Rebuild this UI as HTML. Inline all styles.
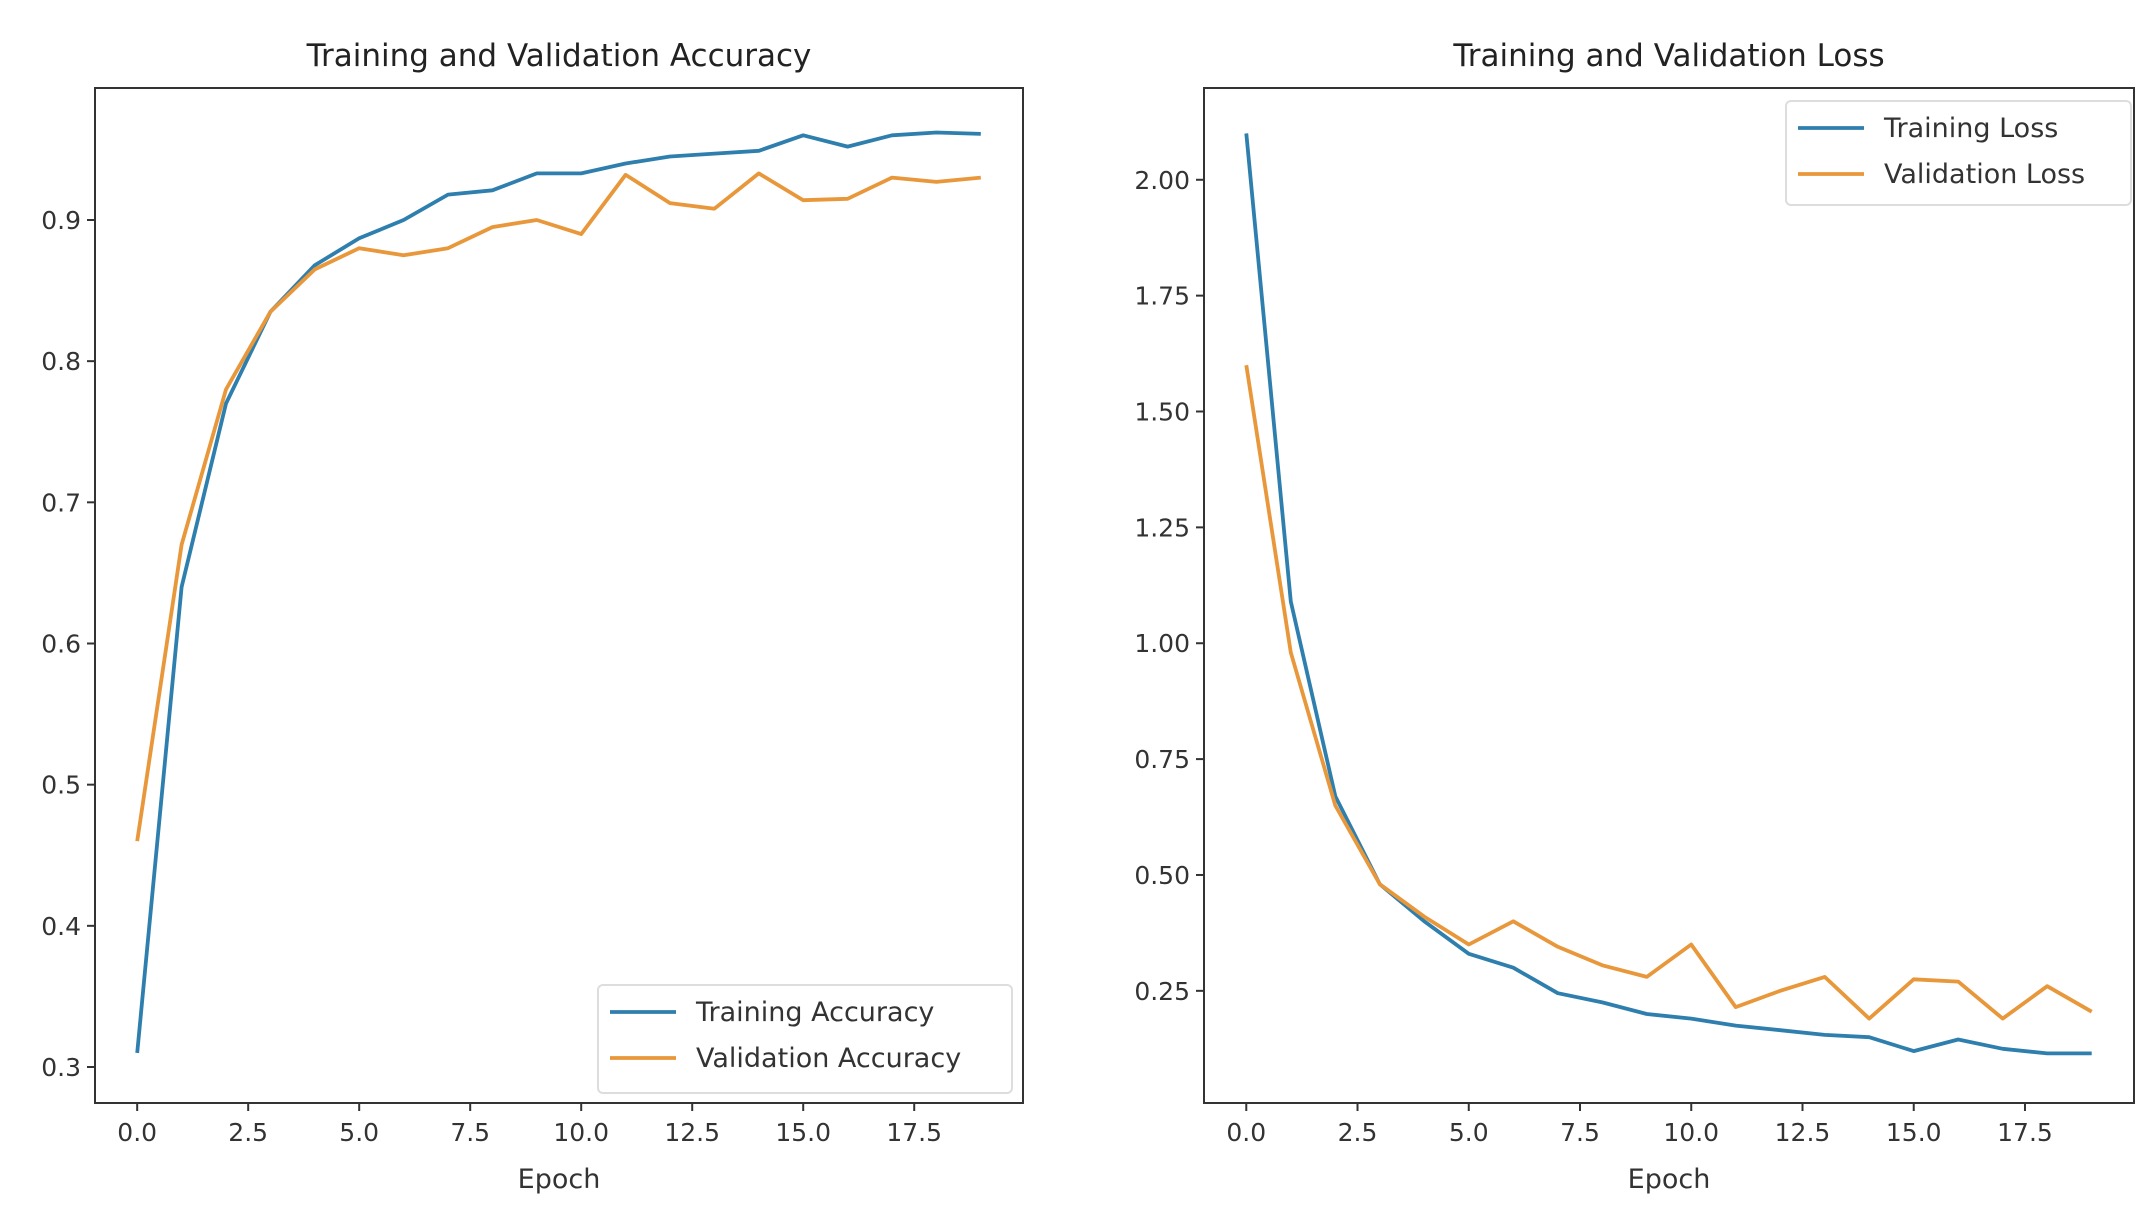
<!DOCTYPE html>
<html><head><meta charset="utf-8"><style>
html,body{margin:0;padding:0;background:#fff;}
svg{display:block;font-family:"DejaVu Sans","Liberation Sans",sans-serif;}
</style></head><body>
<svg id="chart" width="2148" height="1213" viewBox="0 0 2148 1213" xmlns="http://www.w3.org/2000/svg"></svg>
<script>
const epochs = [0,1,2,3,4,5,6,7,8,9,10,11,12,13,14,15,16,17,18,19];
const trainAcc = [0.31,0.64,0.77,0.835,0.868,0.887,0.90,0.918,0.921,0.933,0.933,0.94,0.945,0.947,0.949,0.96,0.952,0.96,0.962,0.961];
const valAcc = [0.46,0.67,0.78,0.835,0.865,0.88,0.875,0.88,0.895,0.90,0.89,0.932,0.912,0.908,0.933,0.914,0.915,0.93,0.927,0.93];
const trainLoss = [2.10,1.09,0.67,0.48,0.40,0.33,0.30,0.245,0.225,0.20,0.19,0.175,0.165,0.155,0.15,0.12,0.145,0.125,0.115,0.115];
const valLoss = [1.60,0.98,0.65,0.48,0.41,0.35,0.40,0.345,0.305,0.28,0.35,0.215,0.25,0.28,0.19,0.275,0.27,0.19,0.26,0.205];
const xTicks = [0,2.5,5,7.5,10,12.5,15,17.5];
const accTicks = [0.3,0.4,0.5,0.6,0.7,0.8,0.9];
const lossTicks = [0.25,0.5,0.75,1.0,1.25,1.5,1.75,2.0];

const NS = "http://www.w3.org/2000/svg";
const svg = document.getElementById('chart');
const BLUE = "#2f7fae", ORANGE = "#e8973a";
function mk(tag, attrs, parent){
  const e = document.createElementNS(NS, tag);
  for (const k in attrs) e.setAttribute(k, attrs[k]);
  (parent||svg).appendChild(e);
  return e;
}
function panel(o){
  const g = mk('g', {});
  
  
  const L=o.left,R=o.right,T=88,B=1103;
  const xs = v => L + (v - (-0.95)) / (19.95 - (-0.95)) * (R - L);
  const ys = v => B - (v - o.ymin) / (o.ymax - o.ymin) * (B - T);
  const frame = mk('rect', {x:L,y:T,width:R-L,height:B-T,fill:'none',stroke:'#333',"stroke-width":2}, g);
  
  
  const title = mk('text', {x:(L+R)/2,y:66,"text-anchor":"middle","font-size":31,fill:"#222"}, g);
  title.textContent = o.title;
  
  
  xTicks.forEach(t=>{
    const x = xs(t);
    mk('line',{x1:x,x2:x,y1:B,y2:B+8,stroke:'#333',"stroke-width":2},g);
    const tx = mk('text',{x:x,y:B+38,"text-anchor":"middle","font-size":25,fill:"#333"},g);
    tx.textContent = t.toFixed(1);
    
    
  });
  o.yt.forEach(t=>{
    const y = ys(t);
    mk('line',{x1:L-8,x2:L,y1:y,y2:y,stroke:'#333',"stroke-width":2},g);
    const ty = mk('text',{x:L-14,y:y+9,"text-anchor":"end","font-size":25,fill:"#333"},g);
    ty.textContent = t.toFixed(o.dec);
    
    
  });
  const xl = mk('text',{x:(L+R)/2,y:1188,"text-anchor":"middle","font-size":27,fill:"#333"},g);
  xl.textContent = 'Epoch';
  
  
  o.series.forEach(s=>{
    const d = epochs.map((e,i)=>(i?'L':'M')+xs(e).toFixed(1)+','+ys(s.v[i]).toFixed(1)).join(' ');
    const p = mk('path',{d:d,fill:'none',stroke:s.c,"stroke-width":3.8,"stroke-linejoin":"round"},g);
    
    
  });
  const lg = mk('g',{},g);
  
  
  const lgx=o.lg[0], lgy=o.lg[1], lw=o.lg[2], lh=o.lg[3];
  mk('rect',{x:lgx,y:lgy,width:lw,height:lh,fill:'#fff',stroke:'#ddd',"stroke-width":2,rx:5},lg);
  o.series.forEach((s,i)=>{
    const y = lgy + 27 + i*46;
    mk('line',{x1:lgx+12,x2:lgx+78,y1:y,y2:y,stroke:s.c,"stroke-width":3.8},lg);
    const t = mk('text',{x:lgx+98,y:y+9,"font-size":27,fill:"#333"},lg);
    t.textContent = s.label;
    
    
  });
}
panel({name:'accuracy-chart',title:'Training and Validation Accuracy',left:95,right:1023,ymin:0.2745,ymax:0.9935,yt:accTicks,dec:1,
  series:[{v:trainAcc,c:BLUE,label:'Training Accuracy',name:'training-accuracy-line'},{v:valAcc,c:ORANGE,label:'Validation Accuracy',name:'validation-accuracy-line'}],
  lg:[598,985,414,108]});
panel({name:'loss-chart',title:'Training and Validation Loss',left:1204,right:2134,ymin:0.008,ymax:2.198,yt:lossTicks,dec:2,
  series:[{v:trainLoss,c:BLUE,label:'Training Loss',name:'training-loss-line'},{v:valLoss,c:ORANGE,label:'Validation Loss',name:'validation-loss-line'}],
  lg:[1786,101,345,104]});
</script>
</body></html>
